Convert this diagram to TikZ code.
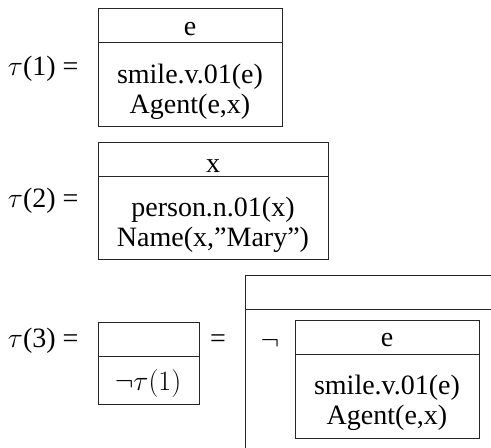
\RequirePackage{fix-cm}
\documentclass[tikz,border=0pt]{standalone}
\usepackage{fontspec}
\setmainfont{Liberation Serif}
\begin{document}
\begin{tikzpicture}[x=1pt,y=-1pt,
  every node/.style={inner sep=0pt,outer sep=0pt,font=\fontsize{28}{30}\selectfont},
  boxline/.style={draw=black!85,line width=0.9pt},
  txt/.style={anchor=base}]
\useasboundingbox (0,0) rectangle (491,448);
\clip (0,0) rectangle (491,448);
% tau(1)
\node[txt,anchor=base west] (l1) at (8,75) {$\tau$(1) =};
\draw[boxline] (98,8) rectangle (282,126);
\draw[boxline] (98,42.5) -- (282,42.5);
\node[txt] (h1) at (190,35) {e};
\node[txt] (a1) at (190,83) {smile.v.01(e)};
\node[txt] (b1) at (190,113) {Agent(e,x)};
% tau(2)
\node[txt,anchor=base west] (l2) at (8,207) {$\tau$(2) =};
\draw[boxline] (98,142) rectangle (328,259);
\draw[boxline] (98,176.5) -- (328,176.5);
\node[txt] (h2) at (213,172) {x};
\node[txt] (a2) at (213,216.5) {person.n.01(x)};
\node[txt] (b2) at (213,246.5) {Name(x,''Mary'')};
% tau(3)
\node[txt,anchor=base west] (l3) at (8,347) {$\tau$(3) =};
\draw[boxline] (98,322) rectangle (199,404);
\draw[boxline] (98,356) -- (199,356);
\node[txt] (a3) at (148,390) {$\neg\tau(1)$};
\node[txt] (eq) at (218,347) {=};
% big box
\draw[boxline] (245,460) -- (245,275) -- (500,275);
\draw[boxline] (245,309) -- (500,309);
\node[txt] (ng) at (270,349) {$\neg$};
\draw[boxline] (295,320) rectangle (479,438);
\draw[boxline] (295,354) -- (479,354);
\node[txt] (h4) at (387,346.5) {e};
\node[txt] (a4) at (387,394.5) {smile.v.01(e)};
\node[txt] (b4) at (387,424.5) {Agent(e,x)};
\end{tikzpicture}
\end{document}
